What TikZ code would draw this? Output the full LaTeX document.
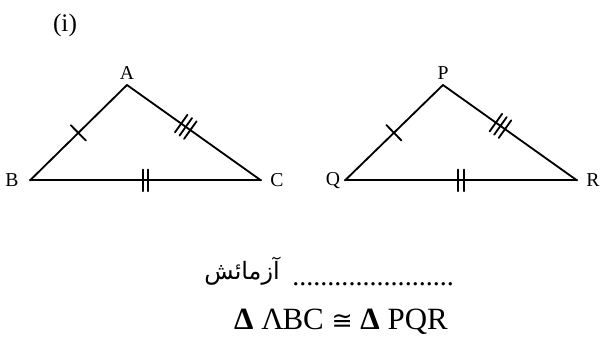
\documentclass[tikz,border=0pt]{standalone}
\usepackage{amsmath,amssymb}
\usepackage{fontspec}
\setmainfont{Liberation Serif}
\newfontfamily\urdufont[Script=Arabic]{DejaVu Sans}
\newfontfamily\symfont{DejaVu Sans}
\TeXXeTstate=1
\usetikzlibrary{positioning,decorations.markings}

\begin{document}
\begin{tikzpicture}[
    side/.style={line width=1.3pt, line cap=round},
    lbl/.style={font=\fontsize{14}{17}\selectfont, inner sep=1pt},
    tickone/.style={postaction={decorate, decoration={markings,
        mark=at position #1 with {\draw[line width=1.3pt] (0,-0.27) -- (0,0.27);}}}},
    ticktwo/.style={postaction={decorate, decoration={markings,
        mark=at position #1 with {\foreach \s in {-0.07,0.07} \draw[line width=1.3pt] (\s,-0.27) -- (\s,0.27);}}}},
    tickthree/.style={postaction={decorate, decoration={markings,
        mark=at position #1 with {\foreach \s in {-0.14,0,0.14} \draw[line width=1.3pt] (\s,-0.27) -- (\s,0.27);}}}}
  ]
  \useasboundingbox (0,0) rectangle (15.05,8.95);

  \node[font=\fontsize{18}{21}\selectfont] (num) at (1.625,8.325) {(i)};

  \coordinate (A) at (3.175,6.825);
  \coordinate (B) at (0.75,4.44);
  \coordinate (C) at (6.525,4.44);
  \coordinate (P) at (11.075,6.825);
  \coordinate (Q) at (8.625,4.44);
  \coordinate (R) at (14.425,4.44);

  \draw[side, tickone=0.5] (B) -- (A);
  \draw[side, tickthree=0.44] (A) -- (C);
  \draw[side, ticktwo=0.5] (B) -- (C);

  \draw[side, tickone=0.5] (Q) -- (P);
  \draw[side, tickthree=0.43] (P) -- (R);
  \draw[side, ticktwo=0.5] (Q) -- (R);

  \node[lbl, above=3pt of A] (la) {A};
  \node[lbl, left=7pt of B] (lb) {B};
  \node[lbl, right=5.4pt of C] (lc) {C};
  \node[lbl, above=3pt of P] (lp) {P};
  \node[lbl, left=2.3pt of Q] (lq) {Q};
  \node[lbl, right=5.4pt of R] (lr) {R};

  \node[font=\urdufont\fontsize{17}{20}\selectfont] (word) at (6.05,2.175) {\beginR آزمائش\endR};
  \node[anchor=base west, inner sep=0pt, font=\fontsize{20}{22}\selectfont] (dots) at (7.3,1.825) {.......................};

  \node[font=\fontsize{22}{26}\selectfont] (claim) at (8.525,0.9) {{\bfseries Δ} Λ\kern-0.04emBC {\symfont\fontsize{18}{26}\selectfont ≅} {\bfseries Δ} PQR};
\end{tikzpicture}
\end{document}
